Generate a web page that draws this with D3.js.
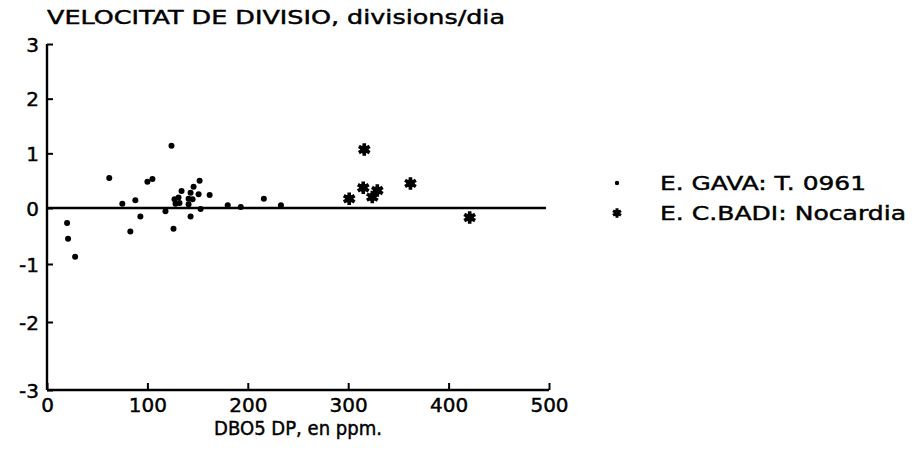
<!DOCTYPE html>
<html><head><meta charset="utf-8">
<script src="https://cdn.jsdelivr.net/npm/d3@7"></script>
<style>body{margin:0;background:#fff}svg{display:block}</style>
</head><body><svg id="c" width="913" height="451"></svg>
<script>
// Data
const gavaX = [124, 62, 100, 105, 75, 88, 93, 83, 20, 21, 28, 118, 126, 127, 131, 128, 134, 132, 143, 141, 143, 146, 145, 141, 152, 151, 162, 153, 180, 193, 216, 233];
const gavaY = [1.14, 0.55, 0.48, 0.53, 0.08, 0.14, -0.15, -0.42, -0.27, -0.55, -0.87, -0.06, -0.37, 0.16, 0.19, 0.08, 0.31, 0.09, -0.15, 0.17, 0.28, 0.39, 0.16, 0.07, 0.50, 0.25, 0.24, -0.02, 0.05, 0.02, 0.17, 0.05];
const badiX = [316, 301, 315, 324, 329, 362, 421];
const badiY = [1.07, 0.17, 0.37, 0.20, 0.32, 0.45, -0.17];
const xTicks = [0, 100, 200, 300, 400, 500];
const yTicks = [3, 2, 1, 0, -1, -2, -3];
const title = "VELOCITAT DE DIVISIO, divisions/dia";
const xTitle = "DBO5 DP, en ppm.";
const legendLabels = ["E. GAVA: T. 0961", "E. C.BADI: Nocardia"];

const svg = d3.select("#c");
const font = "'DejaVu Sans', 'Liberation Sans', sans-serif";
const x = d3.scaleLinear().domain([0, 500]).range([47, 549]);
// the scanned original is slightly stretched below zero
const y = d3.scaleLinear().domain([-3, -2, -1, 0, 3]).range([390, 322, 264, 208, 44]);

function heavy(sel) { return sel.attr("stroke", "#000").attr("stroke-width", 0.45); }

// title
heavy(svg.append("text").attr("x", 47).attr("y", 24).attr("font-family", font)
  .attr("font-size", 19).attr("textLength", 458).attr("lengthAdjust", "spacingAndGlyphs")
  .text(title));

// y axis
const ya = svg.append("g").attr("transform", `translate(${x(0)},0)`)
  .call(d3.axisLeft(y).tickValues(yTicks).tickSize(-6).tickPadding(8).tickFormat(d => d));
// x axis
const xa = svg.append("g").attr("transform", `translate(0,${y(-3)})`)
  .call(d3.axisBottom(x).tickValues(xTicks).tickSize(-7).tickPadding(8).tickFormat(d => d));
[ya, xa].forEach(g => {
  g.select(".domain").attr("stroke", "#000").attr("stroke-width", 2.4);
  g.selectAll(".tick line").attr("stroke", "#000").attr("stroke-width", 2);
  heavy(g.selectAll(".tick text").attr("fill", "#000").attr("font-family", font).attr("font-size", 20));
});
ya.selectAll(".tick text").attr("dy", "0.36em");
xa.selectAll(".tick text").attr("dy", "0.72em");
ya.select(".domain").attr("d", `M0,${y(3)}V${y(-3)}`);
xa.select(".domain").attr("d", `M${x(0)},0H${x(500)}`);

// x title
heavy(svg.append("text").attr("x", 298).attr("y", 435).attr("text-anchor", "middle")
  .attr("font-family", font).attr("font-size", 19).attr("textLength", 168)
  .attr("lengthAdjust", "spacingAndGlyphs").text(xTitle));

// zero line
svg.append("line").attr("x1", x(0)).attr("x2", x(497)).attr("y1", y(0)).attr("y2", y(0))
  .attr("stroke", "#000").attr("stroke-width", 2.6);

// points
const gava = gavaX.map((v, i) => ({x: v, y: gavaY[i]}));
const badi = badiX.map((v, i) => ({x: v, y: badiY[i]}));
svg.append("g").selectAll("circle").data(gava).join("circle")
  .attr("cx", d => x(d.x)).attr("cy", d => y(d.y)).attr("r", 3).attr("fill", "#000");
const ast = d3.symbol().type(d3.symbolAsterisk).size(110);
svg.append("g").selectAll("path").data(badi).join("path")
  .attr("transform", d => `translate(${x(d.x)},${y(d.y)})`)
  .attr("d", ast).attr("stroke", "#000").attr("stroke-width", 3.6).attr("fill", "none");
svg.append("g").selectAll("circle").data(badi).join("circle")
  .attr("cx", d => x(d.x)).attr("cy", d => y(d.y)).attr("r", 4.2).attr("fill", "#000");

// legend
const lg = svg.append("g");
lg.append("circle").attr("cx", 617).attr("cy", 183).attr("r", 2.2).attr("fill", "#000");
lg.append("path").attr("transform", "translate(617,213)")
  .attr("d", d3.symbol().type(d3.symbolAsterisk).size(60)).attr("stroke", "#000").attr("stroke-width", 3);
lg.append("circle").attr("cx", 617).attr("cy", 213).attr("r", 3).attr("fill", "#000");
heavy(lg.selectAll("text").data(legendLabels).join("text")
  .attr("x", 660).attr("y", (d, i) => 190 + i * 30)
  .attr("font-family", font).attr("font-size", 20)
  .attr("textLength", (d, i) => i === 0 ? 206 : 246).attr("lengthAdjust", "spacingAndGlyphs")
  .text(d => d));
</script></body></html>
